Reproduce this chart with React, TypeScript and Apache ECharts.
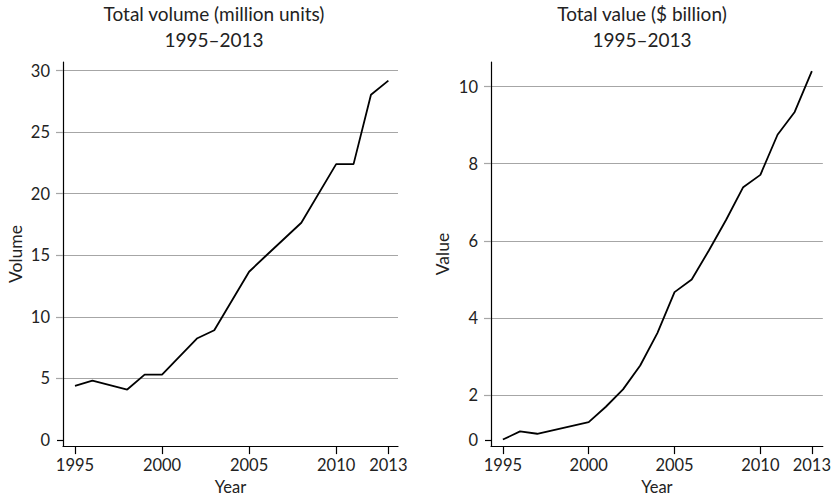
import React, { useEffect, useRef } from "react";
import * as echarts from "echarts";

const VOLUME_YEARS = [1995, 1996, 1998, 1999, 2000, 2002, 2003, 2005, 2006, 2008, 2010, 2011, 2012, 2013];
const VOLUME = [4.39, 4.81, 4.09, 5.3, 5.3, 8.23, 8.9, 13.66, 15.0, 17.64, 22.4, 22.4, 28.04, 29.19];

const VALUE_YEARS = [1995, 1996, 1997, 2000, 2001, 2002, 2003, 2004, 2005, 2006, 2007, 2008, 2009, 2010, 2011, 2012, 2013];
const VALUE = [0.85, 1.06, 1.0, 1.3, 1.7, 2.15, 2.77, 3.61, 4.67, 5.0, 5.75, 6.54, 7.39, 7.71, 8.75, 9.34, 10.4];

const X_TICKS = [1995, 2000, 2005, 2010, 2013];
const VOLUME_TICKS = [0, 5, 10, 15, 20, 25, 30];
const VOLUME_GRID_TICKS = [5, 10, 15, 20, 25, 30];
const VALUE_TICKS = [0.842, 2, 4, 6, 8, 10];
const VALUE_TICK_LABELS = ["0", "2", "4", "6", "8", "10"];
const VALUE_GRID_TICKS = [2, 4, 6, 8, 10];

const TITLES = ["Total volume (million units)\n1995–2013", "Total value ($ billion)\n1995–2013"];

const FONT = "Lato";
const TEXT = "#222";
const GRID = "#a6a6a6";

export default function App() {
  const ref = useRef<HTMLDivElement>(null);
  useEffect(() => {
    if (!ref.current) return;
    const chart = echarts.init(ref.current, undefined, { renderer: "svg" });
    const xAxisCommon = (gridIndex: number, min: number, max: number) => ({
      type: "value",
      gridIndex,
      min,
      max,
      name: "Year",
      nameLocation: "middle",
      nameGap: 28,
      nameTextStyle: { fontFamily: FONT, fontSize: 16.5, color: TEXT },
      axisLine: { show: true, onZero: false, lineStyle: { color: "#000", width: 1.2 } },
      axisTick: { show: true, customValues: X_TICKS, length: 8, lineStyle: { color: "#000", width: 1.2 } },
      axisLabel: {
        customValues: X_TICKS,
        formatter: (v: number) => String(v),
        fontFamily: FONT,
        fontSize: 16.5,
        color: TEXT,
        margin: 10,
      },
      splitLine: { show: false },
    });
    const yMain = (gridIndex: number, min: number, max: number, name: string, labels: number[], tickVals: number[], fmt: (v: number) => string, gap: number) => ({
      type: "value",
      gridIndex,
      position: "left",
      min,
      max,
      name,
      nameLocation: "middle",
      nameGap: gap,
      nameTextStyle: { fontFamily: FONT, fontSize: 17.5, color: TEXT },
      axisLine: { show: true, onZero: false, lineStyle: { color: "#000", width: 1.2 } },
      axisTick: { show: true, customValues: tickVals, length: 6, lineStyle: { color: "#000", width: 1.2 } },
      axisLabel: {
        customValues: labels,
        formatter: fmt,
        fontFamily: FONT,
        fontSize: 16.5,
        color: TEXT,
        margin: 13,
      },
      splitLine: { show: false },
    });
    const yGrid = (gridIndex: number, min: number, max: number, vals: number[]) => ({
      type: "value",
      gridIndex,
      position: "left",
      min,
      max,
      axisLine: { show: false },
      axisTick: { show: true, customValues: vals, length: 7, lineStyle: { color: GRID, width: 1.2 } },
      axisLabel: { show: false, customValues: vals },
      splitLine: { show: true, lineStyle: { color: GRID, width: 1.2 } },
    });

    chart.setOption({
      animation: false,
      backgroundColor: "#fff",
      title: [
        {
          text: TITLES[0],
          left: 214,
          top: 0,
          padding: 0,
          textAlign: "center",
          textStyle: { fontFamily: FONT, fontSize: 19, fontWeight: "normal", color: TEXT, lineHeight: 26 },
        },
        {
          text: TITLES[1],
          left: 642,
          top: 0,
          padding: 0,
          textAlign: "center",
          textStyle: { fontFamily: FONT, fontSize: 19, fontWeight: "normal", color: TEXT, lineHeight: 26 },
        },
      ],
      grid: [
        { left: 63, top: 62, width: 335, height: 387 },
        { left: 491, top: 62, width: 335, height: 387 },
      ],
      xAxis: [xAxisCommon(0, 1994.311, 2013.553), xAxisCommon(1, 1994.308, 2013.639)],
      yAxis: [
        yGrid(0, -0.508, 30.7, VOLUME_GRID_TICKS),
        yMain(0, -0.508, 30.7, "Volume", VOLUME_TICKS, [0], (v: number) => String(v), 39),
        yGrid(1, 0.68, 10.635, VALUE_GRID_TICKS),
        yMain(
          1,
          0.68,
          10.635,
          "Value",
          VALUE_TICKS,
          [VALUE_TICKS[0]],
          (v: number) => {
            const i = VALUE_TICKS.findIndex((t) => Math.abs(t - v) < 1e-6);
            return i >= 0 ? VALUE_TICK_LABELS[i] : "";
          },
          40
        ),
      ],
      series: [
        {
          type: "line",
          xAxisIndex: 0,
          yAxisIndex: 1,
          data: VOLUME_YEARS.map((y, i) => [y, VOLUME[i]]),
          showSymbol: false,
          symbol: "none",
          lineStyle: { color: "#000", width: 1.8 },
          silent: true,
        },
        {
          type: "line",
          xAxisIndex: 1,
          yAxisIndex: 3,
          data: VALUE_YEARS.map((y, i) => [y, VALUE[i]]),
          showSymbol: false,
          symbol: "none",
          lineStyle: { color: "#000", width: 1.8 },
          silent: true,
        },
      ],
    });
    return () => chart.dispose();
  }, []);
  return <div ref={ref} style={{ position: "fixed", left: 0, top: 0, width: 834, height: 500 }} />;
}
